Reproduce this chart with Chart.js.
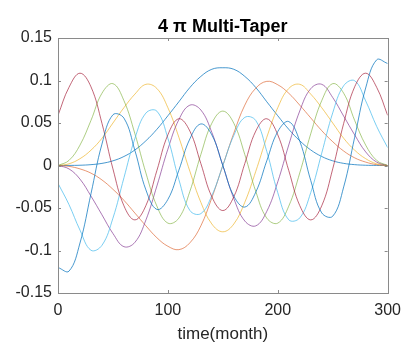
<!DOCTYPE html>
<html>
<head>
<meta charset="utf-8">
<script src="https://cdn.jsdelivr.net/npm/chart.js@4.4.1/dist/chart.umd.min.js"></script>
<style>
  html, body { margin: 0; padding: 0; background: #fff; }
  #wrap { width: 409px; height: 345px; }
</style>
</head>
<body>
<div id="wrap"><canvas id="taperChart" width="409" height="345"></canvas></div>
<script>
// kuukaudet (x-akseli)
const months = [0, 10, 20, 30, 40, 50, 60, 70, 80, 90, 100, 110, 120, 130, 140, 150,
  160, 170, 180, 190, 200, 210, 220, 230, 240, 250, 260, 270, 280, 290, 300];

// taperit, luettu kuvasta
const taper0 = [0, 0.0001, 0.0003, 0.001, 0.0025, 0.0055, 0.0106, 0.0183, 0.0291, 0.0426, 0.0585, 0.075, 0.0917, 0.1048, 0.1132, 0.115,
  0.1132, 0.1048, 0.0917, 0.075, 0.0585, 0.0426, 0.0291, 0.0183, 0.0106, 0.0055, 0.0025, 0.001, 0.0003, 0.0001, 0];
const taper1 = [0, -0.001, -0.004, -0.009, -0.017, -0.028, -0.041, -0.056, -0.071, -0.085, -0.095, -0.099, -0.091, -0.071, -0.038, 0,
  0.038, 0.071, 0.091, 0.099, 0.095, 0.085, 0.071, 0.056, 0.041, 0.028, 0.017, 0.009, 0.004, 0.001, 0];
const taper2 = [0, 0.002, 0.008, 0.018, 0.032, 0.05, 0.068, 0.084, 0.0955, 0.0906, 0.068, 0.0332, -0.0068, -0.0433, -0.0688, -0.078,
  -0.0688, -0.0433, -0.0068, 0.0332, 0.068, 0.0906, 0.0955, 0.084, 0.068, 0.05, 0.032, 0.018, 0.008, 0.002, 0];
const taper3 = [0, -0.004, -0.016, -0.036, -0.058, -0.08, -0.0955, -0.0904, -0.0641, -0.0241, 0.0192, 0.054, 0.071, 0.0653, 0.0389, 0,
  -0.0389, -0.0653, -0.071, -0.054, -0.0192, 0.0241, 0.0641, 0.0904, 0.0955, 0.08, 0.058, 0.036, 0.016, 0.004, 0];
const taper4 = [0, 0.006, 0.024, 0.053, 0.085, 0.0963, 0.0763, 0.0373, -0.0088, -0.0478, -0.0678, -0.0619, -0.0305, 0.0129, 0.0497, 0.064,
  0.0497, 0.0129, -0.0305, -0.0619, -0.0678, -0.0478, -0.0088, 0.0373, 0.0763, 0.0963, 0.085, 0.053, 0.024, 0.006, 0];
const taper5 = [-0.021, -0.046, -0.076, -0.0997, -0.0939, -0.0619, -0.0145, 0.0319, 0.0617, 0.0639, 0.032, -0.0166, -0.0529, -0.0566, -0.0354, 0,
  0.0354, 0.0566, 0.0529, 0.0166, -0.032, -0.0639, -0.0617, -0.0319, 0.0145, 0.0619, 0.0939, 0.0997, 0.076, 0.046, 0.021];
const taper6 = [0.059, 0.092, 0.1086, 0.0926, 0.0496, -0.004, -0.0474, -0.064, -0.0471, -0.0059, 0.0361, 0.055, 0.0405, 0.0023, -0.0368, -0.053,
  -0.0368, 0.0023, 0.0405, 0.055, 0.0361, -0.0059, -0.0471, -0.064, -0.0474, -0.004, 0.0496, 0.0926, 0.1086, 0.092, 0.059];
const taper7 = [-0.12, -0.1243, -0.0912, -0.0333, 0.0252, 0.0597, 0.0557, 0.0176, -0.0287, -0.0517, -0.0399, -0.0055, 0.0313, 0.0489, 0.036, 0,
  -0.036, -0.0489, -0.0313, 0.0055, 0.0399, 0.0517, 0.0287, -0.0176, -0.0557, -0.0597, -0.0252, 0.0333, 0.0912, 0.1243, 0.12];

const xTicks = [0, 100, 200, 300];
const yTicks = [-0.15, -0.1, -0.05, 0, 0.05, 0.1, 0.15];
const yTickLabels = ['-0.15', '-0.1', '-0.05', '0', '0.05', '0.1', '0.15'];

const chartTitle = '4 \u03C0 Multi-Taper';
const xTitle = 'time(month)';

// matlabin oletusvärit, vähän haaleampina
const colors = ['rgba(0,114,189,0.72)', 'rgba(217,83,25,0.6)', 'rgba(237,177,32,0.65)', 'rgba(126,47,142,0.65)',
  'rgba(119,172,48,0.6)', 'rgba(77,190,238,0.75)', 'rgba(162,20,47,0.65)', 'rgba(0,114,189,0.72)'];
const tapers = [taper0, taper1, taper2, taper3, taper4, taper5, taper6, taper7];

const datasets = tapers.map((t, k) => ({
  label: 'taper ' + k,
  data: months.map((m, i) => ({ x: m, y: t[i] })),
  borderColor: colors[k],
  borderWidth: 1,
  pointRadius: 0,
  tension: 0.4,
  fill: false,
  order: 8 - k
}));

// laatikko, sisäänpäin tikit ja otsikko
const boxPlugin = {
  id: 'boxPlugin',
  afterDraw(chart) {
    const { ctx, chartArea: a, scales } = chart;
    ctx.save();
    ctx.strokeStyle = '#8a8a8a';
    ctx.lineWidth = 1;
    ctx.strokeRect(Math.round(a.left) + 0.5, Math.round(a.top) + 0.5,
      Math.round(a.right - a.left), Math.round(a.bottom - a.top));
    ctx.beginPath();
    xTicks.forEach(v => {
      const px = Math.round(scales.x.getPixelForValue(v)) + 0.5;
      ctx.moveTo(px, a.bottom); ctx.lineTo(px, a.bottom - 3);
      ctx.moveTo(px, a.top); ctx.lineTo(px, a.top + 3);
    });
    yTicks.forEach(v => {
      const py = Math.round(scales.y.getPixelForValue(v)) + 0.5;
      ctx.moveTo(a.left, py); ctx.lineTo(a.left + 3, py);
      ctx.moveTo(a.right, py); ctx.lineTo(a.right - 3, py);
    });
    ctx.stroke();
    ctx.fillStyle = '#000';
    ctx.font = 'bold 18px "Liberation Sans", Arial, sans-serif';
    ctx.textAlign = 'center';
    ctx.textBaseline = 'alphabetic';
    ctx.fillText(chartTitle, (a.left + a.right) / 2, 32);
    ctx.restore();
  }
};

new Chart(document.getElementById('taperChart').getContext('2d'), {
  type: 'line',
  data: { datasets: datasets },
  options: {
    responsive: false,
    animation: false,
    events: [],
    layout: { padding: { left: 0, right: 16, top: 38, bottom: 0 } },
    plugins: { legend: { display: false }, tooltip: { enabled: false } },
    scales: {
      x: {
        type: 'linear',
        min: 0,
        max: 300,
        afterFit: s => { s.height = 52; },
        afterBuildTicks: s => { s.ticks = xTicks.map(v => ({ value: v })); },
        grid: { display: false, drawTicks: false },
        border: { display: false },
        ticks: {
          color: '#262626',
          padding: 8,
          maxRotation: 0,
          font: { family: '"Liberation Sans", Arial, sans-serif', size: 16 }
        },
        title: {
          display: true,
          text: xTitle,
          color: '#262626',
          padding: { top: 0, bottom: 0 },
          font: { family: '"Liberation Sans", Arial, sans-serif', size: 17 }
        }
      },
      y: {
        type: 'linear',
        min: -0.15,
        max: 0.15,
        afterFit: s => { s.width = 58; },
        afterBuildTicks: s => { s.ticks = yTicks.map(v => ({ value: v })); },
        grid: { display: false, drawTicks: false },
        border: { display: false },
        ticks: {
          color: '#262626',
          padding: 6,
          font: { family: '"Liberation Sans", Arial, sans-serif', size: 16 },
          callback: (v) => {
            const i = yTicks.findIndex(t => Math.abs(t - v) < 1e-9);
            return i >= 0 ? yTickLabels[i] : '';
          }
        }
      }
    }
  },
  plugins: [boxPlugin]
});
</script>
</body>
</html>
